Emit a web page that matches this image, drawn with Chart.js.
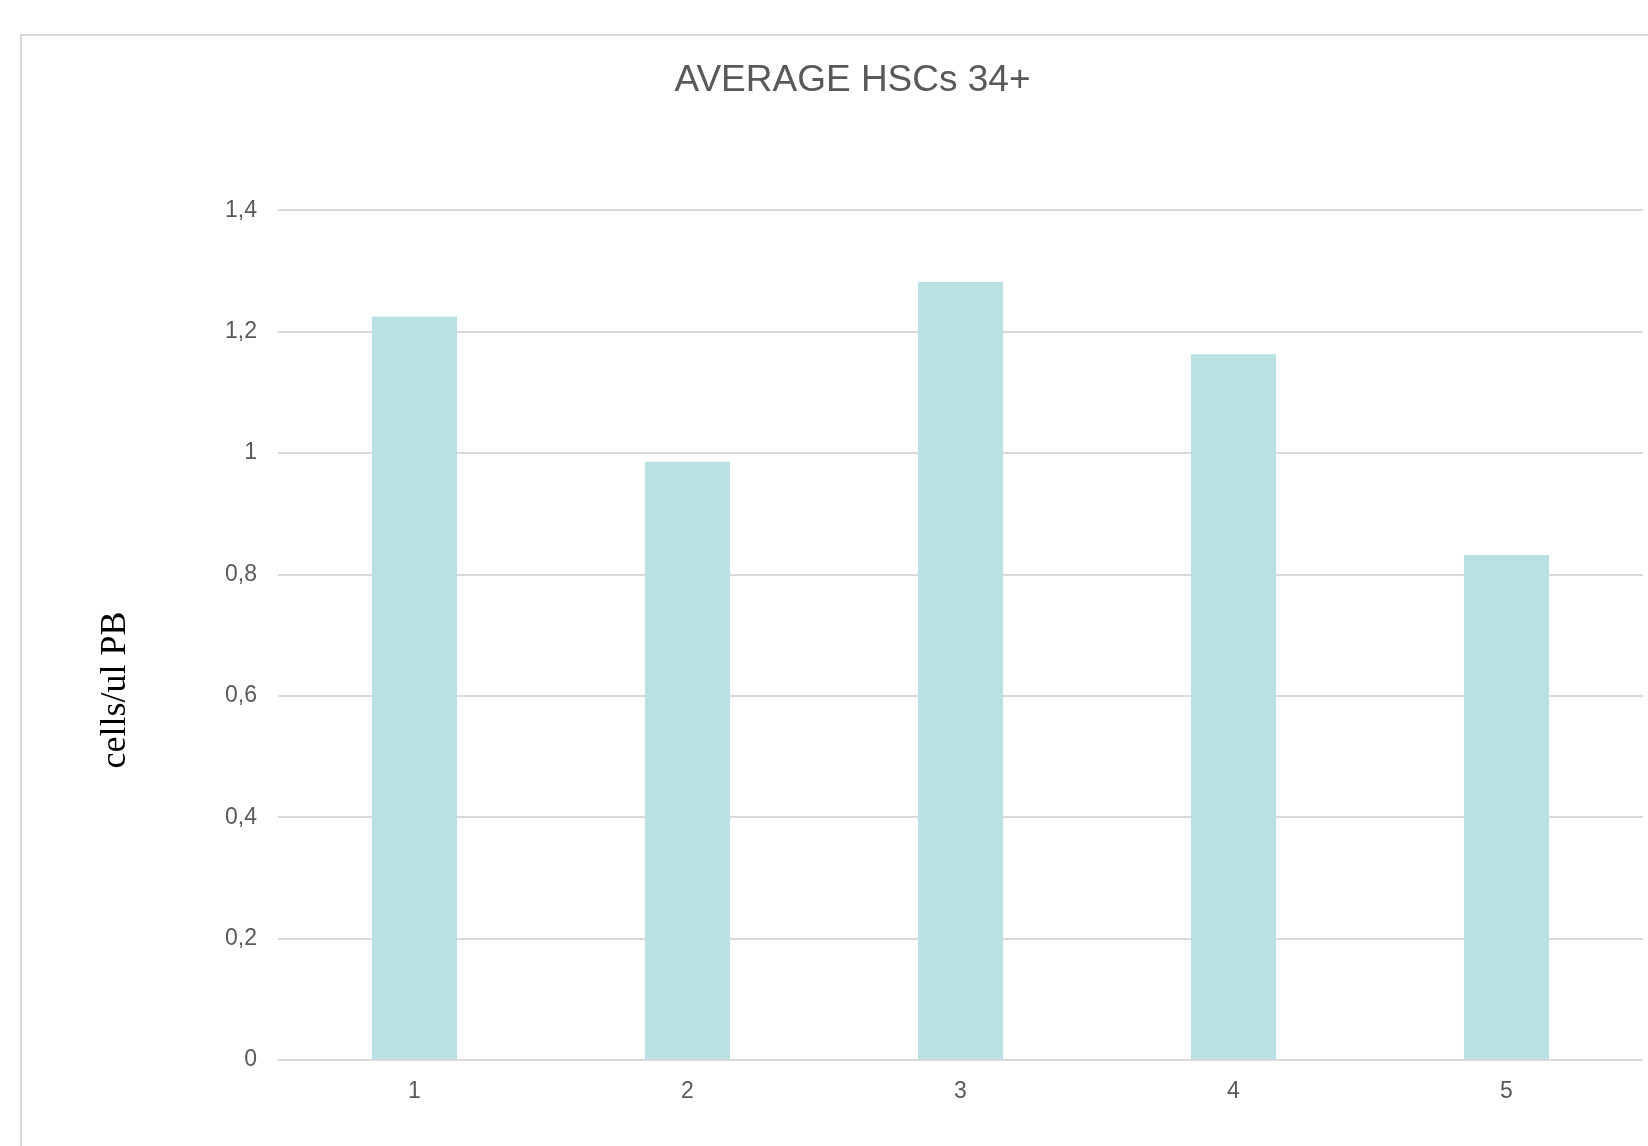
<!DOCTYPE html>
<html>
<head>
<meta charset="utf-8">
<style>
  html, body { margin: 0; padding: 0; background: #ffffff; }
  #wrap { width: 1648px; height: 1146px; position: relative; }
</style>
<script src="https://cdn.jsdelivr.net/npm/chart.js@4/dist/chart.umd.min.js"></script>
</head>
<body>
<div id="wrap"><canvas id="chart" width="1648" height="1146"></canvas></div>
<script>
// Sample groups and their average CD34+ counts
const categories = ['1', '2', '3', '4', '5'];
const averageHSC = [1.225, 0.986, 1.282, 1.163, 0.832];
const yTickValues = [0, 0.2, 0.4, 0.6, 0.8, 1.0, 1.2, 1.4];
const chartTitle = 'AVERAGE HSCs 34+';
const yAxisTitle = 'cells/ul PB';

const fmtTick = v => {
  const s = (Math.round(v * 10) / 10).toString();
  return s.replace('.', ',');
};

// Light frame around the chart and the rotated axis caption
const framePlugin = {
  id: 'frame',
  beforeDraw(chart) {
    const ctx = chart.ctx;
    ctx.save();
    ctx.fillStyle = '#ffffff';
    ctx.fillRect(0, 0, chart.width, chart.height);
    ctx.strokeStyle = '#d9d9d9';
    ctx.lineWidth = 2;
    ctx.beginPath();
    ctx.moveTo(21, chart.height + 5);
    ctx.lineTo(21, 35);
    ctx.lineTo(chart.width + 5, 35);
    ctx.stroke();
    ctx.restore();
  },
  afterDraw(chart) {
    const ctx = chart.ctx;
    ctx.save();
    ctx.translate(116, 690);
    ctx.rotate(-Math.PI / 2);
    ctx.font = '36px "Liberation Serif", "Times New Roman", serif';
    ctx.fillStyle = '#000000';
    ctx.textAlign = 'center';
    ctx.textBaseline = 'middle';
    ctx.fillText(yAxisTitle, 0, 0);
    ctx.restore();
  }
};

new Chart(document.getElementById('chart'), {
  type: 'bar',
  data: {
    labels: categories,
    datasets: [{
      data: averageHSC,
      backgroundColor: '#b9e0e3',
      borderWidth: 0,
      categoryPercentage: 1.0,
      barPercentage: 0.312
    }]
  },
  options: {
    responsive: false,
    animation: false,
    devicePixelRatio: 1,
    layout: { padding: { top: 35, right: 5, left: 62, bottom: 0 } },
    plugins: {
      legend: { display: false },
      tooltip: { enabled: false },
      title: {
        display: true,
        text: chartTitle,
        color: '#595959',
        font: { family: '"Liberation Sans", Arial, sans-serif', size: 37, weight: 'normal' },
        padding: { top: 24, bottom: 107 }
      }
    },
    scales: {
      x: {
        grid: { display: false, drawTicks: false },
        border: { display: false },
        ticks: {
          color: '#595959',
          padding: 18,
          font: { family: '"Liberation Sans", Arial, sans-serif', size: 23 }
        },
        afterFit(scale) { scale.height = 1146 - 1060; }
      },
      y: {
        min: 0,
        max: 1.4,
        afterBuildTicks(scale) { scale.ticks = yTickValues.map(v => ({ value: v })); },
        grid: { color: '#d9d9d9', lineWidth: 2, drawTicks: false },
        border: { display: false },
        ticks: {
          color: '#595959',
          padding: 21,
          font: { family: '"Liberation Sans", Arial, sans-serif', size: 23 },
          callback: v => fmtTick(v)
        },
        afterFit(scale) { scale.width = 278 - 62; }
      }
    }
  },
  plugins: [framePlugin]
});
</script>
</body>
</html>
